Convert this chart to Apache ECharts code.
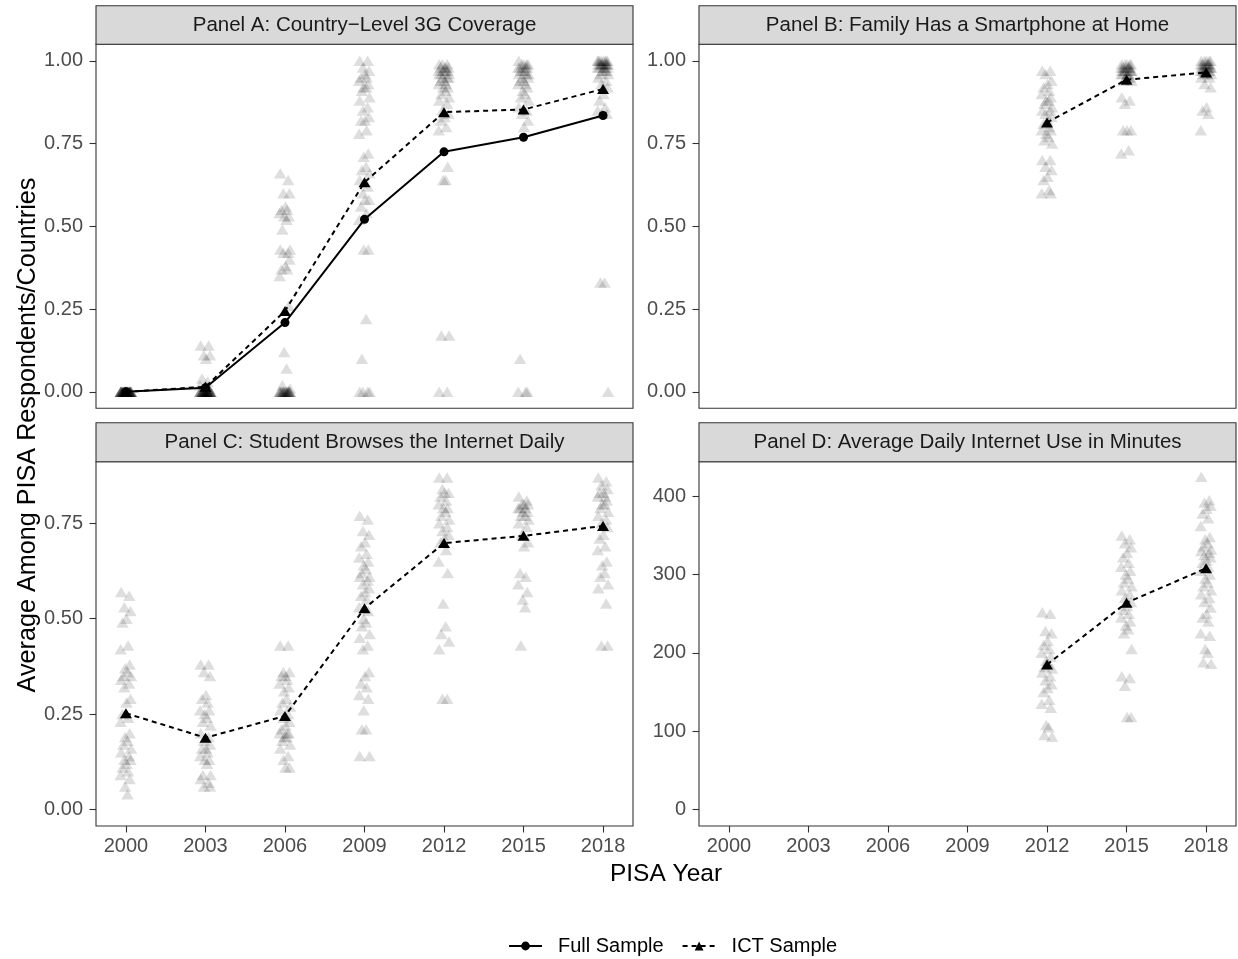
<!DOCTYPE html>
<html><head><meta charset="utf-8">
<script src="https://cdn.jsdelivr.net/npm/echarts@6/dist/echarts.min.js"></script>
<style>html,body{margin:0;padding:0;background:#fff}#c{width:1238px;height:959px}</style>
</head><body><div id="c"></div>
<script>
// ---------- data ----------
const years = [2000, 2003, 2006, 2009, 2012, 2015, 2018];
const yearTickLabels = ['2000', '2003', '2006', '2009', '2012', '2015', '2018'];
const panelTitles = [
  'Panel A: Country\u2212Level 3G Coverage',
  'Panel B: Family Has a Smartphone at Home',
  'Panel C: Student Browses the Internet Daily',
  'Panel D: Average Daily Internet Use in Minutes'
];
const ticksShare = [0, 0.25, 0.5, 0.75, 1.0];
const ticksShareC = [0, 0.25, 0.5, 0.75];
const ticksMinutes = [0, 100, 200, 300, 400];

// mean lines
const fullMeanA = [0.0, 0.012, 0.209, 0.521, 0.725, 0.769, 0.835];
const ictMeanA  = [0.0, 0.015, 0.244, 0.633, 0.845, 0.853, 0.915];
const ictMeanB  = [null, null, null, null, 0.814, 0.943, 0.965];
const ictMeanC  = [0.252, 0.188, 0.245, 0.527, 0.698, 0.717, 0.743];
const ictMeanD  = [null, null, null, null, 185, 264, 308];

// country-level values (Panel A)
const a2000 = [0,0,0,0,0,0,0,0,0,0,0,0,0,0,0,0,0,0,0,0,0,0,0,0,0,0,0,0,0,0,0,0,0,0,0,0,0,0,0,0];
const a2003 = [0.14,0.14,0.11,0.11,0.10,0.04,0.03,0.02,0.01,0,0,0,0,0,0,0,0,0,0,0,0,0,0,0,0,0,0,0,0,0,0,0,0,0,0,0,0,0,0];
const a2006 = [0.66,0.64,0.60,0.60,0.56,0.55,0.55,0.54,0.53,0.53,0.52,0.49,0.43,0.43,0.42,0.42,0.40,0.38,0.37,0.37,0.35,0.26,0.12,0.07,0.02,0.01,0,0,0,0,0,0,0,0,0,0,0,0,0,0,0,0,0,0];
const a2009 = [1.0,1.0,0.98,0.97,0.96,0.95,0.95,0.94,0.93,0.92,0.92,0.91,0.89,0.88,0.86,0.85,0.83,0.82,0.82,0.79,0.78,0.72,0.71,0.68,0.67,0.66,0.64,0.62,0.60,0.58,0.58,0.56,0.54,0.52,0.43,0.43,0.22,0.10,0.0,0.0,0.0,0.0];
const a2012 = [0.99,0.99,0.99,0.98,0.98,0.98,0.98,0.97,0.97,0.97,0.97,0.96,0.96,0.96,0.95,0.95,0.95,0.94,0.94,0.93,0.93,0.92,0.92,0.91,0.90,0.89,0.88,0.87,0.85,0.84,0.83,0.82,0.80,0.79,0.68,0.64,0.64,0.17,0.17,0.0,0.0];
const a2015 = [1.0,0.99,0.99,0.99,0.99,0.98,0.98,0.98,0.98,0.97,0.97,0.97,0.96,0.96,0.96,0.95,0.95,0.94,0.94,0.93,0.93,0.92,0.91,0.90,0.89,0.88,0.86,0.85,0.84,0.82,0.80,0.10,0.0,0.0,0.0];
const a2018 = [1.0,1.0,1.0,1.0,1.0,1.0,1.0,1.0,0.99,0.99,0.99,0.99,0.99,0.99,0.99,0.99,0.98,0.98,0.98,0.98,0.98,0.97,0.97,0.97,0.96,0.96,0.95,0.94,0.93,0.92,0.90,0.88,0.86,0.85,0.84,0.84,0.33,0.33,0.0];

// Panel B
const b2012 = [0.97,0.97,0.96,0.94,0.93,0.92,0.91,0.90,0.89,0.88,0.88,0.87,0.86,0.85,0.85,0.84,0.83,0.82,0.81,0.80,0.79,0.79,0.78,0.77,0.76,0.75,0.70,0.70,0.68,0.67,0.65,0.64,0.61,0.60,0.60];
const b2015 = [0.99,0.99,0.99,0.99,0.99,0.98,0.98,0.98,0.98,0.98,0.98,0.97,0.97,0.97,0.97,0.97,0.97,0.96,0.96,0.96,0.96,0.95,0.95,0.95,0.94,0.94,0.89,0.88,0.87,0.79,0.79,0.79,0.73,0.72];
const b2018 = [1.0,1.0,1.0,1.0,1.0,0.99,0.99,0.99,0.99,0.99,0.99,0.98,0.98,0.98,0.98,0.98,0.98,0.98,0.97,0.97,0.97,0.97,0.97,0.96,0.96,0.96,0.95,0.95,0.93,0.92,0.86,0.85,0.84,0.79];

// Panel C
const c2000 = [0.57,0.56,0.53,0.52,0.50,0.49,0.43,0.42,0.38,0.37,0.36,0.35,0.35,0.34,0.33,0.32,0.29,0.28,0.25,0.24,0.23,0.20,0.19,0.18,0.17,0.16,0.15,0.14,0.13,0.13,0.12,0.11,0.10,0.09,0.08,0.06,0.04];
const c2003 = [0.38,0.38,0.36,0.35,0.30,0.29,0.28,0.26,0.26,0.25,0.24,0.23,0.22,0.20,0.19,0.18,0.17,0.16,0.16,0.15,0.14,0.13,0.13,0.12,0.09,0.09,0.08,0.07,0.06,0.06];
const c2006 = [0.43,0.43,0.36,0.36,0.35,0.35,0.34,0.33,0.32,0.31,0.29,0.28,0.27,0.26,0.25,0.24,0.23,0.22,0.21,0.20,0.20,0.20,0.19,0.19,0.18,0.17,0.16,0.14,0.13,0.11,0.11];
const c2009 = [0.77,0.76,0.73,0.72,0.70,0.69,0.67,0.66,0.65,0.64,0.63,0.62,0.61,0.61,0.60,0.59,0.58,0.57,0.56,0.55,0.53,0.52,0.50,0.49,0.48,0.46,0.45,0.43,0.42,0.36,0.35,0.33,0.32,0.30,0.29,0.26,0.21,0.21,0.14,0.14];
const c2012 = [0.87,0.87,0.84,0.83,0.83,0.82,0.81,0.80,0.79,0.79,0.78,0.77,0.76,0.75,0.74,0.73,0.72,0.71,0.70,0.68,0.65,0.62,0.54,0.48,0.46,0.44,0.42,0.29,0.29];
const c2015 = [0.82,0.81,0.80,0.80,0.80,0.79,0.79,0.79,0.78,0.78,0.77,0.77,0.76,0.75,0.74,0.72,0.70,0.69,0.62,0.61,0.59,0.57,0.55,0.53,0.43];
const c2018 = [0.87,0.86,0.85,0.84,0.83,0.83,0.82,0.82,0.81,0.80,0.80,0.79,0.78,0.77,0.76,0.75,0.74,0.72,0.71,0.69,0.68,0.65,0.64,0.62,0.61,0.59,0.58,0.54,0.43,0.43];

// Panel D (minutes)
const d2012 = [252,250,228,225,215,210,205,200,195,190,185,182,180,175,170,165,160,155,150,140,135,130,108,105,95,93];
const d2015 = [350,345,340,335,328,322,315,310,305,300,295,290,285,280,275,270,265,260,255,250,245,240,235,230,225,205,170,168,158,118,118];
const d2018 = [425,395,392,388,384,378,372,362,348,345,340,336,332,330,328,325,322,318,315,310,305,300,295,290,285,280,275,270,265,258,250,245,240,225,222,205,200,188,186];

// horizontal jitter offsets (years), hand-set
const jitterOffsets = [-0.18, 0.12, -0.06, 0.17, 0.02, -0.13, 0.08, -0.2, 0.14, -0.03, 0.06, -0.1, 0.19];

// ---------- build ----------
function pts(year, vals) {
  return vals.map((v, i) => [year + jitterOffsets[i % jitterOffsets.length], v]);
}
function meanLine(vals) {
  const out = [];
  years.forEach((y, i) => { if (vals[i] !== null) out.push([y, vals[i]]); });
  return out;
}
const scatterA = [].concat(pts(2000,a2000), pts(2003,a2003), pts(2006,a2006), pts(2009,a2009), pts(2012,a2012), pts(2015,a2015), pts(2018,a2018));
const scatterB = [].concat(pts(2012,b2012), pts(2015,b2015), pts(2018,b2018));
const scatterC = [].concat(pts(2000,c2000), pts(2003,c2003), pts(2006,c2006), pts(2009,c2009), pts(2012,c2012), pts(2015,c2015), pts(2018,c2018));
const scatterD = [].concat(pts(2012,d2012), pts(2015,d2015), pts(2018,d2018));

const FONT = '"Liberation Sans", Arial, Helvetica, sans-serif';
const grids = [
  {left: 96, top: 44.3, width: 537, height: 364},
  {left: 699, top: 44.3, width: 537, height: 364},
  {left: 96, top: 461.7, width: 537, height: 364.3},
  {left: 699, top: 461.7, width: 537, height: 364.3}
].map(g => Object.assign(g, {show: true, borderColor: '#333333', borderWidth: 1.1, backgroundColor: '#fff', containLabel: false}));

const xAxes = [0,1,2,3].map(i => ({
  type: 'value', gridIndex: i, min: 1998.87, max: 2019.13,
  splitLine: {show: false}, axisLine: {show: false, onZero: false},
  axisTick: {show: i >= 2, length: 6.5, customValues: years, lineStyle: {color: '#333333', width: 1.1}},
  axisLabel: {show: i >= 2, customValues: years, margin: 10, color: '#4D4D4D', fontSize: 20, fontFamily: FONT,
    formatter: v => yearTickLabels[years.indexOf(Math.round(v))] || ''}
}));
const yRanges = [
  {min: -0.05, max: 1.05, ticks: ticksShare, dec: 2},
  {min: -0.05, max: 1.05, ticks: ticksShare, dec: 2},
  {min: -0.0434, max: 0.9114, ticks: ticksShareC, dec: 2},
  {min: -21.15, max: 444.15, ticks: ticksMinutes, dec: 0}
];
const yAxes = yRanges.map((r, i) => ({
  type: 'value', gridIndex: i, min: r.min, max: r.max,
  splitLine: {show: false}, axisLine: {show: false, onZero: false},
  axisTick: {show: true, length: 6.5, customValues: r.ticks, lineStyle: {color: '#333333', width: 1.1}},
  axisLabel: {show: true, customValues: r.ticks, margin: 13, color: '#4D4D4D', fontSize: 20, fontFamily: FONT,
    formatter: v => v.toFixed(r.dec)}
}));

function scatterSeries(i, data) {
  return {type: 'scatter', xAxisIndex: i, yAxisIndex: i, data: data, symbol: 'triangle', symbolSize: [12.5, 10.5],
    itemStyle: {color: '#000', opacity: 0.13}, z: 2, silent: true};
}
function ictSeries(i, vals) {
  return {name: 'ICT Sample', type: 'line', xAxisIndex: i, yAxisIndex: i, data: meanLine(vals),
    symbol: 'triangle', symbolSize: [12, 10], showSymbol: true,
    lineStyle: {color: '#000', width: 2, type: [5, 4]}, itemStyle: {color: '#000'}, z: 4};
}
const series = [
  scatterSeries(0, scatterA), scatterSeries(1, scatterB), scatterSeries(2, scatterC), scatterSeries(3, scatterD),
  {name: 'Full Sample', type: 'line', xAxisIndex: 0, yAxisIndex: 0, data: meanLine(fullMeanA),
    symbol: 'circle', symbolSize: 9, lineStyle: {color: '#000', width: 2, type: 'solid'}, itemStyle: {color: '#000'}, z: 4},
  ictSeries(0, ictMeanA), ictSeries(1, ictMeanB), ictSeries(2, ictMeanC), ictSeries(3, ictMeanD)
];

const graphics = [];
const stripTops = [5.7, 5.7, 422.7, 422.7];
grids.forEach((g, i) => {
  const h = g.top - stripTops[i];
  graphics.push({type: 'rect', shape: {x: g.left, y: stripTops[i], width: g.width, height: h},
    style: {fill: '#D9D9D9', stroke: '#333333', lineWidth: 1.1}, z: 10});
  graphics.push({type: 'text', x: g.left + g.width / 2, y: stripTops[i] + h / 2,
    style: {text: panelTitles[i], fill: '#1A1A1A', font: '20.5px ' + FONT, align: 'center', verticalAlign: 'middle'}, z: 11});
});
graphics.push({type: 'text', x: 28, y: 435, rotation: Math.PI / 2,
  style: {text: 'Average Among PISA Respondents/Countries', fill: '#000', font: '25.2px ' + FONT, align: 'center', verticalAlign: 'middle'}, z: 11});
graphics.push({type: 'text', x: 666, y: 874,
  style: {text: 'PISA Year', fill: '#000', font: '24.5px ' + FONT, align: 'center', verticalAlign: 'middle'}, z: 11});

const chart = echarts.init(document.getElementById('c'), null, {renderer: 'canvas'});
chart.setOption({
  animation: false,
  backgroundColor: '#fff',
  grid: grids, xAxis: xAxes, yAxis: yAxes, series: series, graphic: graphics,
  legend: {data: ['Full Sample', 'ICT Sample'], left: 503, top: 931, itemWidth: 33, itemHeight: 11, itemGap: 18,
    textStyle: {fontSize: 20, color: '#000', fontFamily: FONT, padding: [0, 0, 0, 11]}}
});
</script></body></html>
